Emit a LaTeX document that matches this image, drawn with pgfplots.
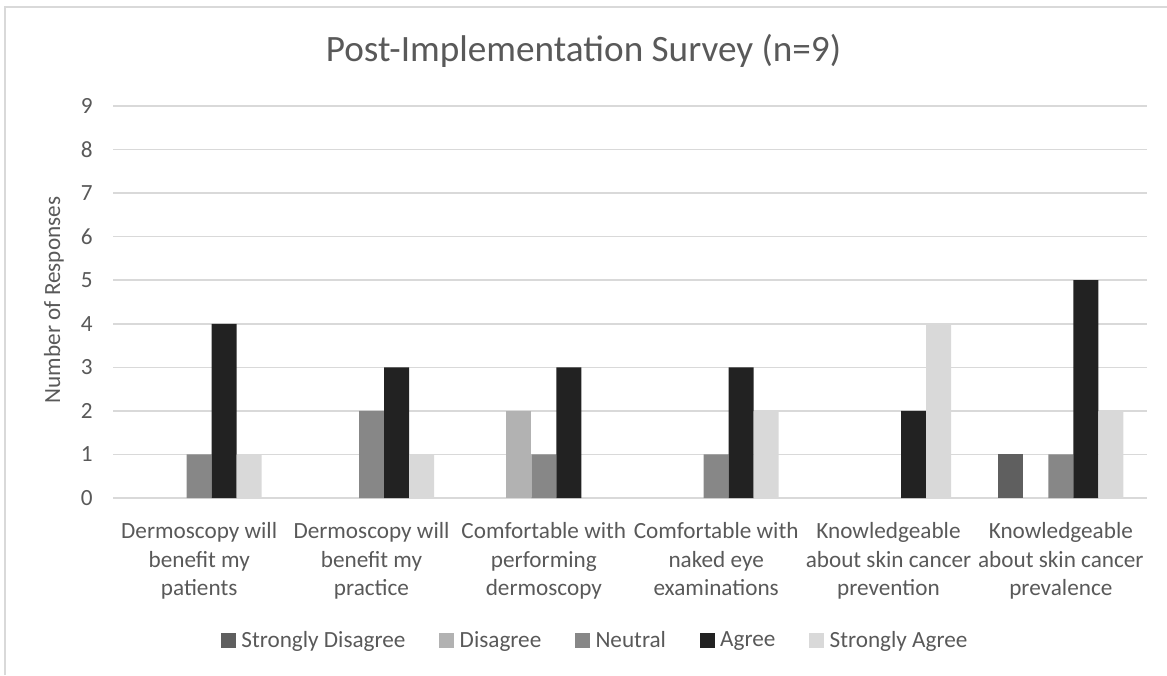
\documentclass[border=0pt]{standalone}
\usepackage{fontspec}
\setmainfont{Carlito}
\usepackage{pgfplots}
\pgfplotsset{compat=1.18}
\definecolor{txt}{HTML}{595959}
\definecolor{gridc}{HTML}{D9D9D9}
\definecolor{cSD}{HTML}{5F5F5F}
\definecolor{cD}{HTML}{B2B2B2}
\definecolor{cN}{HTML}{878787}
\definecolor{cA}{HTML}{222222}
\definecolor{cSA}{HTML}{D9D9D9}
\begin{document}
\begin{tikzpicture}
\path[use as bounding box] (0pt,0pt) rectangle (583.5pt,337.5pt);
\draw[gridc, line width=1pt] (2.5pt,0pt) -- (2.5pt,333.75pt) -- (583.5pt,333.75pt);
\node[txt, font=\fontsize{18.6}{22}\selectfont] at (291.75pt,312pt) {Post-Implementation Survey (n=9)};
\begin{axis}[
  at={(56.5pt,88.5pt)}, anchor=south west,
  scale only axis, width=517pt, height=196pt,
  ybar=0pt, bar width=12.5pt,
  xmin=-0.5, xmax=5.5, ymin=0, ymax=9,
  xtick={0,...,5}, ytick={0,...,9},
  xticklabels={{Dermoscopy will\\benefit my\\patients},
               {Dermoscopy will\\benefit my\\practice},
               {Comfortable with\\performing\\dermoscopy},
               {Comfortable with\\naked eye\\examinations},
               {Knowledgeable\\about skin cancer\\prevention},
               {Knowledgeable\\about skin cancer\\prevalence}},
  major tick length=0pt,
  axis line style={draw=none},
  ymajorgrids, grid style={gridc, line width=0.8pt},
  /pgf/number format/assume math mode=true,
  tick label style={txt, font=\fontsize{11.6}{14.25}\selectfont},
  xticklabel style={anchor=north, align=center, inner sep=0pt, yshift=-12pt},
  yticklabel style={anchor=east, inner sep=0pt, xshift=-10pt},
  ylabel={Number of Responses},
  every axis y label/.style={at={(axis description cs:-0.057,0.505)}, rotate=90, anchor=center, txt, font=\fontsize{11.6}{14}\selectfont},
  legend columns=-1,
  legend style={at={(axis description cs:0.468,-0.364)}, anchor=center, draw=none, fill=none,
    font=\fontsize{11.6}{14}\selectfont, text=txt,
    nodes={inner xsep=2.8pt, inner ysep=0pt},
    /tikz/every even column/.append style={column sep=14pt}},
  legend image code/.code={\fill[#1] (0pt,-3.75pt) rectangle (7.5pt,3.75pt);},
]
\addplot[fill=cSD, draw=none] coordinates {(5,1)};
\addplot[fill=cD, draw=none] coordinates {(2,2)};
\addplot[fill=cN, draw=none] coordinates {(0,1) (1,2) (2,1) (3,1) (5,1)};
\addplot[fill=cA, draw=none] coordinates {(0,4) (1,3) (2,3) (3,3) (4,2) (5,5)};
\addplot[fill=cSA, draw=none] coordinates {(0,1) (1,1) (3,2) (4,4) (5,2)};
\legend{Strongly Disagree, Disagree, Neutral, Agree, Strongly Agree}
\end{axis}
\end{tikzpicture}
\end{document}
